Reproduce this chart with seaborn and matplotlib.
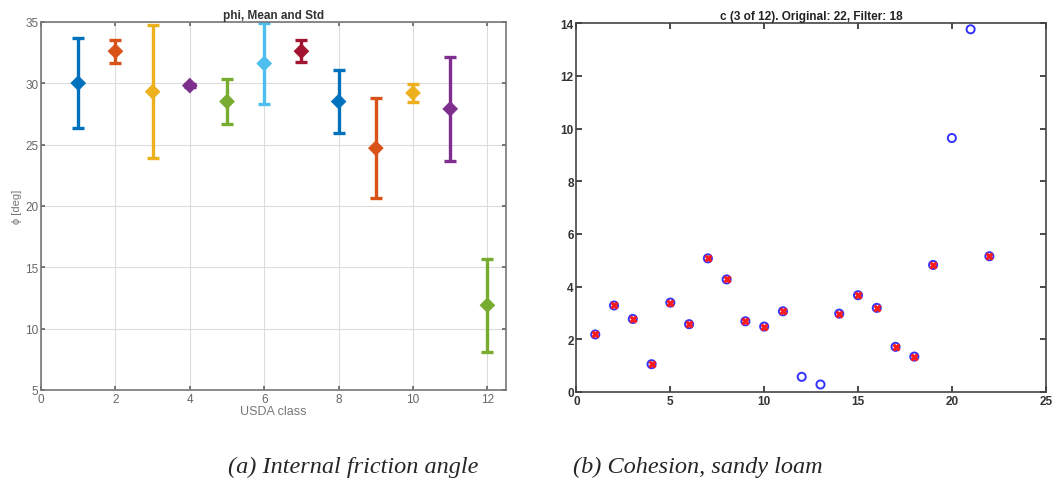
import matplotlib
matplotlib.use("Agg")
import matplotlib.pyplot as plt
import numpy as np
import pandas as pd
import seaborn as sns

# --- data ---
usda_class = list(range(1, 13))
phi_mean = [30.0, 32.6, 29.3, 29.8, 28.5, 31.6, 32.6, 28.5, 24.7, 29.2, 27.9, 11.9]
phi_std = [3.65, 0.95, 5.4, 0.1, 1.8, 3.3, 0.9, 2.6, 4.1, 0.75, 4.25, 3.8]
matlab_colors = ["#0072BD", "#D95319", "#EDB120", "#7E2F8E", "#77AC30", "#4DBEEE",
                 "#A2142F", "#0072BD", "#D95319", "#EDB120", "#7E2F8E", "#77AC30"]

sample_idx = list(range(1, 23))
cohesion = [2.18, 3.28, 2.77, 1.05, 3.39, 2.57, 5.07, 4.27, 2.68, 2.48, 3.06,
            0.57, 0.28, 2.97, 3.67, 3.19, 1.71, 1.34, 4.82, 9.64, 13.77, 5.15]
kept = [True] * 11 + [False, False] + [True] * 6 + [False, False, True]

df_phi = pd.DataFrame({"cls": usda_class, "mean": phi_mean, "std": phi_std})
df_c = pd.DataFrame({"idx": sample_idx, "c": cohesion, "kept": kept})
df_kept = df_c[df_c["kept"]]

sns.set_theme(style="white")
plt.rcParams["font.family"] = ["Liberation Sans", "DejaVu Sans"]

fig = plt.figure(figsize=(10.52, 4.85), dpi=100)
ax1 = fig.add_axes([0.039, 0.194, 0.442, 0.759])
ax2 = fig.add_axes([0.548, 0.190, 0.446, 0.760])

# --- (a) phi mean and std ---
for i, row in df_phi.iterrows():
    ax1.errorbar(row["cls"], row["mean"], yerr=row["std"], fmt="none",
                 ecolor=matlab_colors[i], elinewidth=2.4, capsize=4, capthick=2.4, zorder=2)
sns.scatterplot(data=df_phi, x="cls", y="mean", hue="cls", palette=matlab_colors,
                marker="D", s=55, edgecolor=None, legend=False, ax=ax1, zorder=3)
ax1.set_xlim(0, 12.5)
ax1.set_ylim(5, 35)
ax1.set_xticks(range(0, 13, 2))
ax1.set_yticks(range(5, 36, 5))
ax1.grid(True, color="#dcdcdc", linewidth=0.8)
ax1.set_axisbelow(True)
ax1.set_title("phi, Mean and Std", fontsize=8.5, fontweight="bold", color="#333333", pad=3)
ax1.set_xlabel("USDA class", fontsize=9, color="#777777", labelpad=0)
ax1.set_ylabel("ϕ [deg]", fontsize=8, color="#777777", labelpad=2)
ax1.tick_params(direction="in", length=3, labelsize=8.5, colors="#666666",
                top=True, right=True, bottom=True, left=True, pad=2)
for sp in ax1.spines.values():
    sp.set_color("#777777")
    sp.set_linewidth(1.2)

# --- (b) cohesion ---
sns.scatterplot(data=df_c, x="idx", y="c", marker="o", s=34, facecolor="none",
                edgecolor="#3333ff", linewidth=1.4, legend=False, ax=ax2, zorder=2)
sns.scatterplot(data=df_kept, x="idx", y="c", marker="X", s=28, color="#ff1a1a",
                edgecolor=None, legend=False, ax=ax2, zorder=3)
ax2.set_xlim(0, 25)
ax2.set_ylim(0, 14)
ax2.set_xticks(range(0, 26, 5))
ax2.set_yticks(range(0, 15, 2))
ax2.set_xlabel("")
ax2.set_ylabel("")
ax2.set_title("c (3 of 12). Original: 22, Filter: 18", fontsize=8.5, fontweight="bold",
              color="#222222", pad=3)
ax2.tick_params(direction="in", length=4, labelsize=8.5, colors="#333333",
                top=True, right=True, bottom=True, left=True, pad=2)
for lbl in ax2.get_xticklabels() + ax2.get_yticklabels():
    lbl.set_fontweight("bold")
for sp in ax2.spines.values():
    sp.set_color("#444444")
    sp.set_linewidth(1.2)

# --- captions ---
fig.text(0.336, 0.037, "(a) Internal friction angle", ha="center", va="center",
         fontsize=17.5, style="italic", family=["Liberation Serif", "DejaVu Serif"])
fig.text(0.663, 0.037, "(b) Cohesion, sandy loam", ha="center", va="center",
         fontsize=17.5, style="italic", family=["Liberation Serif", "DejaVu Serif"])

fig.savefig("out.png", dpi=100)
